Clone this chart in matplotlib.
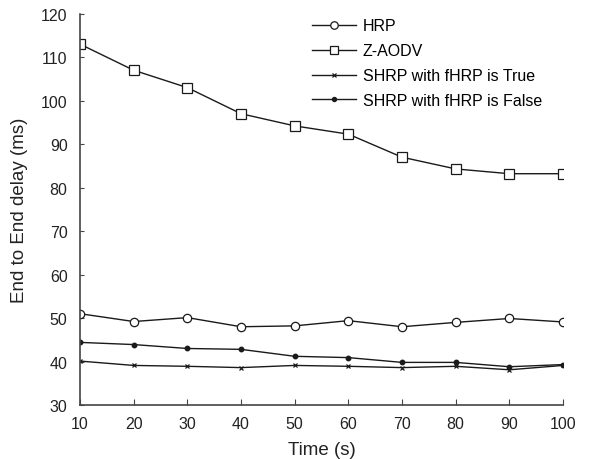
import matplotlib
matplotlib.use("Agg")
import matplotlib.pyplot as plt

plt.rcParams['font.family'] = ['Liberation Sans', 'DejaVu Sans']

time = [10, 20, 30, 40, 50, 60, 70, 80, 90, 100]
hrp = [51.0, 49.2, 50.1, 48.0, 48.2, 49.4, 48.0, 49.0, 49.9, 49.1]
zaodv = [113.0, 107.0, 103.0, 97.0, 94.2, 92.3, 87.0, 84.3, 83.2, 83.2]
shrp_true = [40.1, 39.1, 38.9, 38.6, 39.1, 38.9, 38.6, 38.9, 38.1, 39.1]
shrp_false = [44.4, 43.9, 43.0, 42.8, 41.2, 40.9, 39.8, 39.8, 38.8, 39.3]
yticks = [30, 40, 50, 60, 70, 80, 90, 100, 110, 120]

fig = plt.figure(figsize=(6.03, 4.6), dpi=100)
ax = fig.add_axes([0.1327, 0.1174, 0.8010, 0.8506])

lc = '#1a1a1a'
ax.plot(time, hrp, color=lc, lw=1, marker='o', ms=6, mfc='white', mec=lc, mew=0.9, label='HRP')
ax.plot(time, zaodv, color=lc, lw=1, marker='s', ms=6.5, mfc='white', mec=lc, mew=0.9, label='Z-AODV')
ax.plot(time, shrp_true, color=lc, lw=1, marker='x', ms=3.5, mec=lc, mew=0.9, label='SHRP with fHRP is True')
ax.plot(time, shrp_false, color=lc, lw=1, marker='o', ms=3.2, mfc=lc, mec=lc, label='SHRP with fHRP is False')

ax.set_xlim(10, 100)
ax.set_ylim(30, 120)
ax.set_xticks(time)
ax.set_yticks(yticks)
ax.spines['top'].set_visible(False)
ax.spines['right'].set_visible(False)
for s in ['left', 'bottom']:
    ax.spines[s].set_color('#444444')
    ax.spines[s].set_linewidth(1.2)
ax.tick_params(axis='y', direction='in', length=3, colors='#444444', labelcolor='#222222',
               labelsize=11.5, pad=9)
ax.tick_params(axis='x', direction='in', length=4, colors='#444444', labelcolor='#222222',
               labelsize=11.5, pad=8)
ax.set_xlabel('Time (s)', fontsize=13.5, color='#222222', labelpad=7)
ax.set_ylabel('End to End delay (ms)', fontsize=13.5, color='#222222', labelpad=9)

ax.legend(loc='upper left', bbox_to_anchor=(0.45, 1.025), frameon=False, fontsize=11.5,
          handlelength=2.8, handletextpad=0.4, labelspacing=0.62, markerscale=0.9)

fig.savefig('out.png', dpi=100)
